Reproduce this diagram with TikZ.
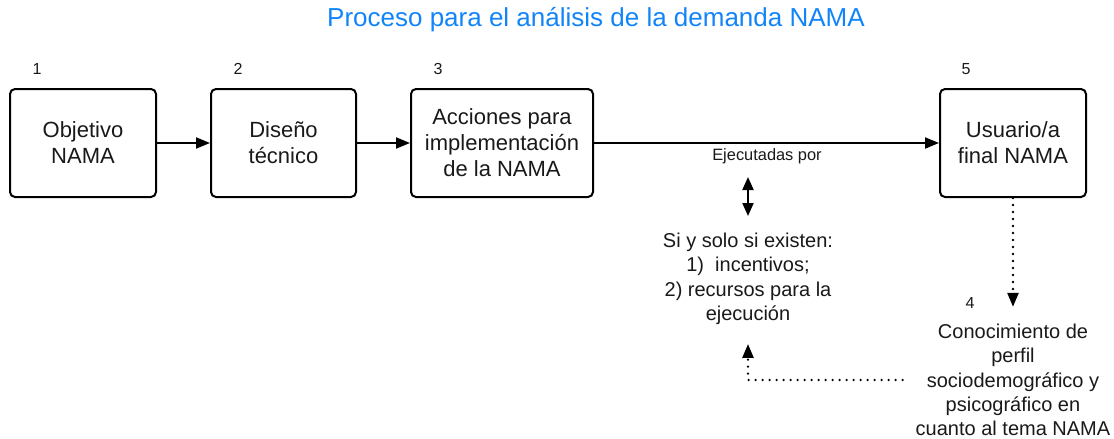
\documentclass[tikz,border=0pt]{standalone}
\usepackage{fontspec}
\setmainfont{Liberation Sans}
\usetikzlibrary{arrows.meta}
\definecolor{titleblue}{RGB}{18,132,250}
\definecolor{inkgray}{RGB}{25,25,25}

\begin{document}
\begin{tikzpicture}[x=0.5pt,y=-0.5pt,
  stage/.style={draw,line width=1pt,rounded corners=2.5pt,minimum height=54pt,align=center,text=inkgray,font=\fontsize{11}{13}\selectfont},
  num/.style={text=inkgray,font=\fontsize{8}{9}\selectfont},
  note/.style={align=center,text=inkgray,font=\fontsize{10}{12.2}\selectfont},
  flow/.style={line width=1pt,-{Triangle[length=7pt,width=5.5pt]}},
  dots/.style={line width=1.3pt,line cap=round,dash pattern=on 0pt off 3.5pt,-{Triangle[length=7pt,width=5.5pt]}}]
  \useasboundingbox (0,0) rectangle (1114,439);
  \node [text=titleblue,font=\fontsize{13}{15}\selectfont] (title) at (596,20) {Proceso para el análisis de la demanda NAMA};
  % stages
  \node [stage,minimum width=73pt] (obj) at (83,143) {Objetivo\\NAMA};
  \node [stage,minimum width=72.5pt] (dis) at (283.5,143) {Diseño\\técnico};
  \node [stage,minimum width=91pt] (acc) at (502,143) {Acciones para\\implementación\\de la NAMA};
  \node [stage,minimum width=73pt] (usr) at (1013,143) {Usuario/a\\final NAMA};
  \node [num] (n1) at (37,69) {1};
  \node [num] (n2) at (238,69) {2};
  \node [num] (n3) at (438,69) {3};
  \node [num] (n5) at (966,69) {5};
  \node [num] (n4) at (970,303) {4};
  \draw [flow] (obj) -- (dis);
  \draw [flow] (dis) -- (acc);
  \draw [flow] (acc) -- (usr);
  % conditions
  \node [text=inkgray,font=\fontsize{8.2}{9}\selectfont] (ejec) at (767,156) {Ejecutadas por};
  \coordinate (ej1) at (748,177);
  \coordinate (ej2) at (748,216);
  \draw [line width=1pt,{Triangle[length=6.5pt,width=5.5pt]}-{Triangle[length=6.5pt,width=5.5pt]}] (ej1) -- (ej2);
  \node [note] (cond) at (748,279) {Si y solo si existen:\\1)\ \ incentivos;\\2) recursos para la\\ejecución};
  \node [note] (con) at (1013,380) {Conocimiento de\\perfil\\sociodemográfico y\\psicográfico en\\cuanto al tema NAMA};
  \draw [dots,shorten >=5pt] (usr) -- (con);
  \draw [dots,shorten >=6pt] ([xshift=-3pt]con.west) -| (cond.south);
\end{tikzpicture}
\end{document}
